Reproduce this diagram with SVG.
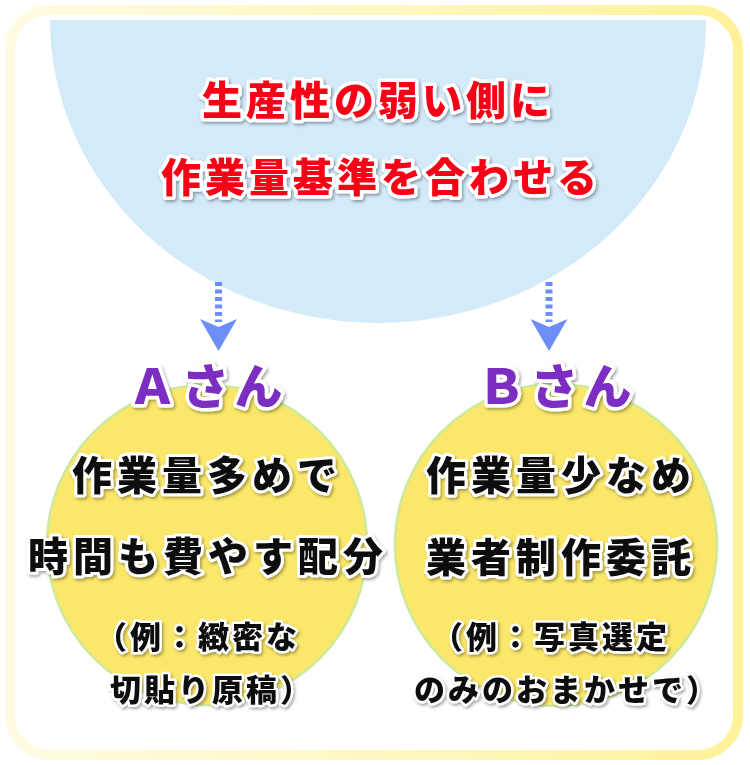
<svg xmlns="http://www.w3.org/2000/svg" width="750" height="765" viewBox="0 0 750 765">
  <defs>
    <linearGradient id="frameGrad" x1="0" y1="0" x2="1" y2="0">
      <stop offset="0" stop-color="#fffbe2"/>
      <stop offset="0.5" stop-color="#fff7c2"/>
      <stop offset="1" stop-color="#fff29a"/>
    </linearGradient>
    <filter id="shadow" x="-10%" y="-30%" width="120%" height="160%">
      <feDropShadow dx="1.5" dy="2" stdDeviation="1.5" flood-color="#000" flood-opacity="0.35"/>
    </filter>
  </defs>
  <style>
    .t { font-family: "Noto Sans CJK JP", "Noto Sans", sans-serif; font-weight: 900; text-anchor: middle; stroke: #ffffff; stroke-linejoin: round; paint-order: stroke fill; filter: url(#shadow); }
    .title { font-size: 40px; letter-spacing: 4px; fill: #f80016; stroke-width: 7px; }
    .name { font-size: 48px; letter-spacing: 5px; fill: #7d2ec2; stroke-width: 7px; }
    .main { font-size: 40px; letter-spacing: 5px; fill: #111111; stroke-width: 6px; }
    .sub { font-size: 31px; letter-spacing: 3px; fill: #111111; stroke-width: 5px; }
    .circle { fill: #fbe86a; stroke: #cde99c; stroke-width: 2.5; }
    .dash { stroke: #6d8df7; stroke-width: 7; stroke-dasharray: 4 3.5; fill: none; }
    .head { fill: #6d8df7; }
  </style>

  <g id="frame">
    <rect x="10" y="10" width="728" height="745" rx="40" ry="40" fill="#ffffff" stroke="url(#frameGrad)" stroke-width="10"/>
  </g>

  <g id="goal">
    <path d="M50 20 A 328 303 0 0 0 706 20 Z" fill="#d3eaf9"/>
    <text class="t title" x="378" y="115">生産性の弱い側に</text>
    <text class="t title" x="381" y="192">作業量基準を合わせる</text>
  </g>

  <g id="connectors">
    <line class="dash" x1="218.5" y1="282" x2="218.5" y2="322"/>
    <path class="head" d="M200 319 L218.5 327 L237 319 L218.5 351 Z"/>
    <line class="dash" x1="549" y1="282" x2="549" y2="322"/>
    <path class="head" d="M530.5 319 L549 327 L567.5 319 L549 351 Z"/>
  </g>

  <g id="nodeA">
    <circle class="circle" cx="207" cy="545" r="160"/>
    <text class="t name" x="208" y="404">Ａさん</text>
    <text class="t main" x="207" y="490">作業量多めで</text>
    <text class="t main" x="208" y="571">時間も費やす配分</text>
    <text class="t sub" x="198" y="648">（例：緻密な</text>
    <text class="t sub" x="212" y="701">切貼り原稿）</text>
  </g>

  <g id="nodeB">
    <circle class="circle" cx="556" cy="545" r="161"/>
    <text class="t name" x="557" y="404">Ｂさん</text>
    <text class="t main" x="561" y="490">作業量少なめ</text>
    <text class="t main" x="561" y="572">業者制作委託</text>
    <text class="t sub" x="551" y="648">（例：写真選定</text>
    <text class="t sub" x="567" y="701">のみのおまかせで）</text>
  </g>
</svg>
